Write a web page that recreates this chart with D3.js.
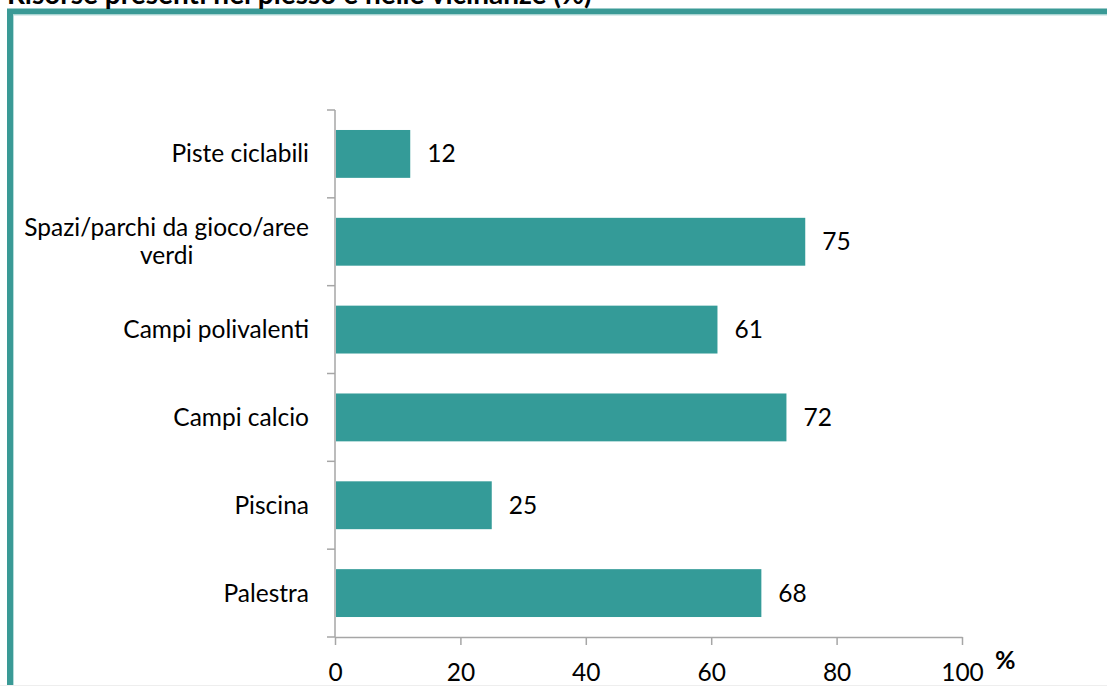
<!DOCTYPE html>
<html>
<head>
<meta charset="utf-8">
<script src="https://cdn.jsdelivr.net/npm/d3@7"></script>
<style>
  body { margin: 0; background: #fff; }
  svg { display: block; font-family: Lato, "Open Sans", sans-serif; }
</style>
</head>
<body>
<div id="chart"></div>
<script>
// Data
const categories = ["Piste ciclabili", "Spazi/parchi da gioco/aree verdi", "Campi polivalenti", "Campi calcio", "Piscina", "Palestra"];
const values = [12, 75, 61, 72, 25, 68];
const xTicks = [0, 20, 40, 60, 80, 100];
const title = "Risorse presenti nel plesso e nelle vicinanze (%)";

const W = 1107, H = 686;
const plot = {left: 335, right: 962, top: 110, bottom: 637};
const teal = "#349b98";
const axisGrey = "#a6a6a6";
const fs = 24.5;

const svg = d3.select("#chart")
  .append("svg")
  .attr("width", W)
  .attr("height", H);

// frame round the chart
svg.append("rect")
  .attr("x", 10).attr("y", 11.5)
  .attr("width", W + 20).attr("height", H + 20)
  .attr("fill", "none")
  .attr("stroke", "#3a9a96")
  .attr("stroke-width", 6);
svg.append("rect")
  .attr("x", 13.5).attr("y", 15)
  .attr("width", W + 20).attr("height", H + 20)
  .attr("fill", "none")
  .attr("stroke", "#b5dcda")
  .attr("stroke-width", 1);

// title, clipped by the top of the page as in the original
svg.append("text")
  .attr("x", 7)
  .attr("y", 3.5)
  .attr("font-weight", "bold")
  .attr("font-size", 28)
  .attr("fill", "#000")
  .text(title);

// scales
const x = d3.scaleLinear()
  .domain([0, 100])
  .range([plot.left, plot.right]);

const y = d3.scaleBand()
  .domain(categories)
  .range([plot.top, plot.bottom])
  .paddingInner(0.455)
  .paddingOuter(0.2275);

// bars
svg.append("g")
  .selectAll("rect")
  .data(values)
  .join("rect")
  .attr("x", x(0) + 1)
  .attr("y", (d, i) => y(categories[i]))
  .attr("width", d => x(d) - x(0) - 1)
  .attr("height", y.bandwidth())
  .attr("fill", teal);

// value labels
svg.append("g")
  .selectAll("text")
  .data(values)
  .join("text")
  .attr("x", d => x(d) + 17)
  .attr("y", (d, i) => y(categories[i]) + y.bandwidth() / 2)
  .attr("dy", "0.35em")
  .attr("font-size", fs)
  .attr("fill", "#000")
  .text(d => d);

// x axis
const xAxis = svg.append("g")
  .attr("transform", `translate(0,${plot.bottom})`)
  .call(d3.axisBottom(x).tickValues(xTicks).tickSize(8).tickSizeOuter(0).tickPadding(19));
xAxis.select(".domain").attr("stroke", axisGrey).attr("stroke-width", 1.5);
xAxis.selectAll(".tick line").attr("stroke", axisGrey).attr("stroke-width", 1.5);
xAxis.selectAll(".tick text")
  .attr("font-family", "Lato, sans-serif")
  .attr("font-size", fs)
  .attr("fill", "#000");

svg.append("text")
  .attr("x", 995)
  .attr("y", 669)
  .attr("font-weight", "bold")
  .attr("font-size", 25)
  .text("%");

// y axis: line plus ticks on the band edges
const yAxis = svg.append("g");
yAxis.append("line")
  .attr("x1", plot.left).attr("x2", plot.left)
  .attr("y1", plot.top).attr("y2", plot.bottom)
  .attr("stroke", axisGrey).attr("stroke-width", 1.5);
const edges = categories.map(c => y(c) - y.step() * y.paddingInner() / 2).concat([plot.bottom]);
yAxis.selectAll(".edge")
  .data(edges)
  .join("line")
  .attr("x1", plot.left - 8).attr("x2", plot.left)
  .attr("y1", d => d).attr("y2", d => d)
  .attr("stroke", axisGrey).attr("stroke-width", 1.5);

// category labels, wrapped when too wide, lines centred on each other
const labelRight = 309, maxLabel = 300, lineH = 28;
categories.forEach(c => {
  const g = svg.append("g");
  const words = c.split(" ");
  const probe = g.append("text").attr("font-size", fs);
  const lines = [];
  let cur = "";
  words.forEach(w => {
    const test = cur ? cur + " " + w : w;
    probe.text(test);
    if (probe.node().getComputedTextLength() > maxLabel && cur) {
      lines.push(cur);
      cur = w;
    } else cur = test;
  });
  lines.push(cur);
  const blockW = d3.max(lines, l => { probe.text(l); return probe.node().getComputedTextLength(); });
  probe.remove();
  const cy = y(c) + y.bandwidth() / 2;
  const t = g.append("text")
    .attr("font-size", fs)
    .attr("fill", "#000")
    .attr("text-anchor", lines.length > 1 ? "middle" : "end");
  lines.forEach((l, i) => {
    t.append("tspan")
      .attr("x", lines.length > 1 ? labelRight - blockW / 2 : labelRight)
      .attr("y", cy + (i - (lines.length - 1) / 2) * lineH)
      .attr("dy", "0.35em")
      .text(l);
  });
});

// faint line at the bottom edge
svg.append("line")
  .attr("x1", 0).attr("x2", W)
  .attr("y1", H - 0.5).attr("y2", H - 0.5)
  .attr("stroke", "#eeeeee");
</script>
</body>
</html>
